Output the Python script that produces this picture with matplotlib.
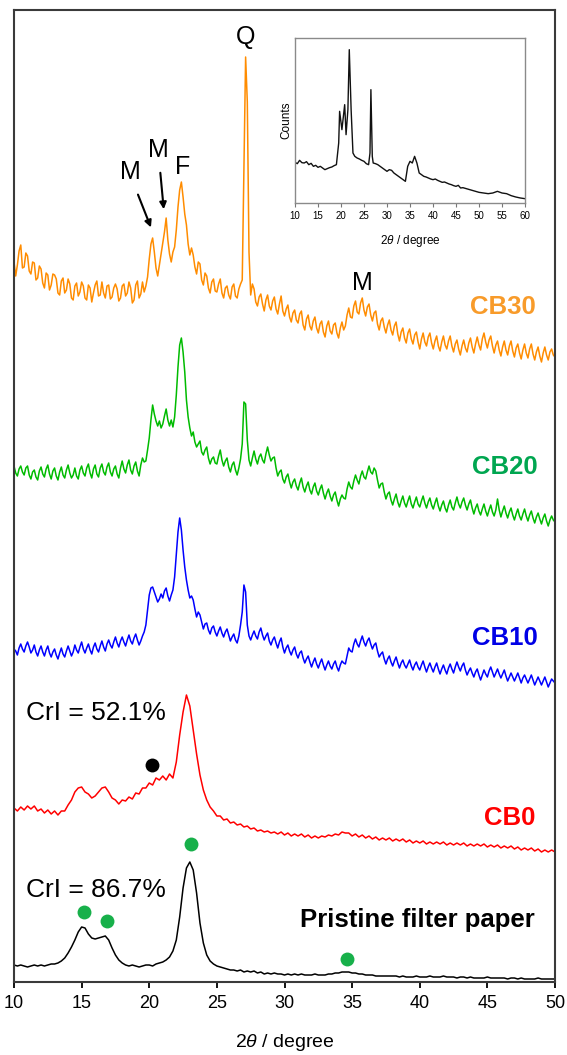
import numpy as np
import matplotlib.pyplot as plt

plt.rcParams['font.family'] = ['Liberation Sans', 'DejaVu Sans']
plt.rcParams['mathtext.fontset'] = 'custom'
plt.rcParams['mathtext.rm'] = 'Liberation Sans'
plt.rcParams['mathtext.it'] = 'Liberation Sans:italic'

# 2theta grids (degree): fine step for the noisy CB patterns, coarser for the smooth ones
theta_fine = np.arange(10, 50.001, 0.125)
theta_coarse = np.arange(10, 50.001, 0.25)

# intensities (a.u.), each pattern above its own baseline
cb30 = [110, 96, 107, 121, 127, 104, 105, 119, 116, 101, 98, 110, 109, 92, 94, 106, 103, 89, 84, 99,
        97, 82, 87, 98, 97, 93, 79, 77, 91, 94, 79, 82, 93, 88, 74, 72, 86, 89, 76, 80,
        90, 86, 74, 72, 87, 84, 70, 79, 87, 91, 76, 77, 90, 79, 74, 86, 87, 73, 75, 84,
        88, 83, 71, 74, 86, 88, 76, 79, 90, 84, 69, 72, 87, 91, 74, 78, 90, 80, 86, 95,
        113, 128, 134, 120, 104, 96, 107, 118, 129, 140, 154, 132, 118, 110, 120, 125, 142, 165, 182, 190,
        175, 158, 147, 128, 117, 124, 117, 105, 98, 110, 108, 92, 87, 99, 96, 84, 79, 90, 93, 81,
        80, 88, 93, 79, 74, 84, 86, 77, 73, 85, 88, 76, 74, 83, 88, 92, 200, 315, 270, 120,
        77, 88, 83, 70, 66, 75, 78, 68, 61, 72, 77, 66, 62, 71, 75, 63, 58, 68, 76, 61,
        56, 63, 67, 55, 50, 59, 62, 52, 49, 58, 61, 47, 42, 53, 57, 46, 42, 51, 55, 44,
        39, 48, 51, 40, 35, 46, 51, 41, 38, 47, 49, 39, 34, 44, 50, 42, 46, 57, 64, 55,
        54, 66, 71, 60, 58, 69, 74, 62, 56, 65, 68, 57, 51, 59, 61, 48, 42, 51, 54, 45,
        39, 47, 52, 42, 37, 46, 50, 38, 31, 40, 44, 34, 29, 39, 43, 33, 28, 37, 40, 30,
        23, 33, 39, 30, 26, 35, 39, 29, 23, 31, 36, 26, 21, 30, 36, 27, 23, 31, 36, 26,
        20, 28, 32, 23, 17, 26, 32, 24, 20, 29, 34, 25, 19, 28, 35, 27, 22, 33, 39, 30,
        24, 32, 36, 26, 19, 27, 31, 22, 16, 25, 31, 22, 17, 26, 31, 21, 15, 24, 28, 19,
        13, 22, 28, 19, 14, 23, 28, 18, 12, 20, 25, 16, 10, 19, 25, 17, 12, 20, 23, 17,
        15]
cb20 = [66, 59, 56, 63, 66, 60, 57, 64, 66, 57, 53, 60, 62, 55, 52, 61, 65, 58, 55, 63,
        67, 58, 53, 61, 64, 56, 52, 60, 65, 57, 54, 62, 67, 59, 54, 57, 64, 56, 53, 62,
        66, 59, 56, 64, 68, 59, 54, 63, 67, 58, 55, 64, 68, 60, 57, 65, 69, 60, 56, 63,
        66, 58, 54, 64, 71, 63, 59, 67, 72, 62, 58, 66, 70, 61, 56, 67, 74, 70, 71, 82,
        94, 112, 127, 118, 111, 106, 111, 104, 108, 116, 123, 112, 106, 112, 105, 115, 137, 165, 187, 194,
        180, 160, 132, 115, 104, 96, 100, 90, 85, 88, 91, 80, 77, 82, 85, 74, 68, 73, 75, 69,
        68, 76, 82, 72, 66, 71, 74, 65, 60, 67, 70, 62, 57, 64, 73, 88, 130, 128, 92, 72,
        66, 74, 81, 73, 68, 75, 78, 72, 69, 78, 85, 77, 71, 74, 75, 64, 56, 60, 62, 53,
        49, 55, 58, 50, 44, 50, 53, 46, 42, 49, 54, 45, 40, 46, 50, 42, 38, 45, 49, 41,
        37, 43, 47, 39, 33, 39, 43, 36, 31, 37, 40, 32, 26, 33, 37, 34, 33, 43, 50, 45,
        43, 51, 57, 52, 48, 56, 61, 55, 53, 60, 66, 60, 58, 64, 61, 52, 44, 48, 49, 40,
        33, 38, 40, 32, 27, 33, 38, 30, 25, 31, 36, 29, 25, 31, 36, 28, 24, 30, 35, 28,
        25, 31, 36, 29, 24, 30, 34, 27, 23, 29, 34, 26, 21, 27, 31, 24, 20, 27, 32, 25,
        22, 29, 35, 28, 24, 30, 34, 27, 22, 28, 32, 24, 18, 24, 28, 21, 17, 23, 28, 21,
        16, 22, 27, 20, 16, 22, 33, 22, 15, 21, 26, 19, 14, 20, 24, 17, 12, 18, 23, 16,
        12, 18, 23, 16, 11, 17, 21, 14, 9, 15, 19, 13, 8, 14, 18, 11, 6, 12, 16, 12,
        10]
cb10 = [43, 41, 37, 44, 48, 43, 40, 46, 50, 45, 39, 42, 47, 40, 36, 42, 46, 40, 36, 42,
        46, 39, 35, 40, 43, 37, 33, 39, 44, 38, 35, 41, 46, 41, 36, 40, 47, 42, 39, 45,
        50, 43, 39, 44, 48, 42, 38, 45, 49, 43, 40, 46, 51, 45, 41, 48, 52, 47, 44, 50,
        55, 49, 45, 51, 55, 50, 46, 52, 57, 51, 48, 54, 58, 52, 47, 51, 56, 60, 67, 82,
        97, 104, 105, 100, 95, 90, 93, 98, 94, 101, 104, 96, 91, 97, 102, 115, 137, 160, 174, 162,
        142, 125, 112, 102, 94, 96, 92, 83, 75, 80, 77, 70, 63, 68, 69, 62, 58, 64, 66, 60,
        56, 61, 65, 59, 55, 60, 63, 57, 51, 55, 58, 52, 49, 56, 67, 80, 107, 100, 67, 56,
        52, 57, 61, 56, 53, 60, 64, 57, 52, 56, 59, 51, 47, 52, 55, 49, 44, 50, 54, 45,
        39, 44, 47, 41, 37, 42, 45, 38, 34, 39, 41, 34, 29, 33, 36, 30, 25, 30, 34, 28,
        24, 29, 33, 27, 22, 27, 31, 26, 23, 28, 31, 25, 21, 27, 31, 29, 28, 36, 44, 41,
        40, 48, 53, 48, 45, 51, 56, 50, 46, 51, 54, 48, 43, 47, 49, 41, 35, 38, 40, 33,
        28, 33, 36, 30, 26, 31, 35, 29, 24, 29, 32, 27, 24, 28, 32, 26, 22, 27, 30, 25,
        22, 27, 31, 25, 20, 25, 29, 24, 20, 25, 29, 23, 18, 23, 27, 22, 18, 24, 28, 23,
        19, 25, 30, 25, 21, 26, 29, 22, 17, 21, 24, 19, 15, 20, 23, 17, 12, 17, 22, 18,
        15, 21, 25, 20, 15, 19, 23, 18, 14, 18, 22, 16, 11, 15, 19, 15, 11, 15, 19, 14,
        9, 14, 17, 13, 9, 13, 17, 12, 7, 11, 15, 11, 7, 11, 15, 10, 5, 9, 13, 11,
        9]
cb0 = [54, 51, 55, 52, 56, 53, 56, 51, 53, 49,
       52, 48, 51, 47, 51, 51, 57, 62, 70, 74,
       75, 70, 68, 64, 66, 70, 74, 75, 70, 64,
       62, 58, 62, 61, 65, 63, 69, 68, 74, 74,
       79, 77, 84, 82, 86, 82, 88, 84, 100, 127,
       150, 167, 156, 132, 108, 87, 72, 62, 55, 51,
       46, 46, 42, 43, 39, 40, 37, 38, 35, 36,
       33, 34, 31, 32, 30, 31, 29, 30, 28, 30,
       27, 29, 26, 28, 26, 28, 25, 27, 24, 26,
       24, 26, 25, 27, 26, 28, 27, 30, 29, 29,
       26, 28, 25, 27, 24, 26, 23, 25, 22, 24,
       22, 24, 21, 23, 21, 23, 20, 22, 19, 21,
       19, 21, 18, 20, 18, 20, 18, 20, 17, 19,
       17, 19, 17, 19, 16, 18, 16, 18, 16, 18,
       15, 17, 15, 17, 14, 16, 14, 16, 13, 15,
       12, 14, 12, 14, 11, 13, 10, 12, 10, 12,
       10]
pristine = [17, 16, 17, 16, 15, 16, 17, 16, 17, 16,
            17, 18, 18, 19, 21, 24, 29, 35, 42, 50,
            55, 54, 48, 44, 43, 44, 45, 46, 42, 34,
            27, 22, 19, 17, 16, 17, 16, 15, 16, 17,
            17, 16, 18, 19, 20, 22, 25, 31, 42, 65,
            94, 114, 120, 112, 89, 59, 39, 27, 21, 18,
            16, 15, 14, 13, 12, 12, 11, 12, 10, 11,
            10, 11, 9, 10, 8, 9, 8, 9, 8, 8,
            7, 8, 7, 8, 7, 8, 7, 7, 7, 8,
            7, 7, 7, 8, 8, 9, 9, 10, 10, 10,
            9, 9, 8, 8, 7, 7, 7, 6, 6, 6,
            6, 6, 6, 6, 5, 6, 5, 5, 5, 6,
            5, 5, 5, 6, 5, 5, 5, 6, 5, 5,
            5, 4, 5, 5, 4, 5, 4, 4, 4, 4,
            5, 4, 4, 4, 4, 4, 3, 4, 4, 3,
            4, 3, 3, 3, 3, 4, 3, 3, 3, 3,
            3]

series = [cb30, cb20, cb10, cb0, pristine]
grids = [theta_fine, theta_fine, theta_fine, theta_coarse, theta_coarse]
names = ['CB30', 'CB20', 'CB10', 'CB0', 'Pristine filter paper']
offsets = [610, 450, 290, 120, 0]
line_colors = ['#ff8c00', '#00bb00', '#0000ff', '#ff0000', '#000000']
label_colors = ['#f89b2a', '#00a650', '#0000e6', '#ff0000', '#000000']
label_pos = [(46.16, 675), (46.3, 515), (46.3, 344), (46.67, 164), (39.8, 62)]

# inset: whole range of CB30
inset_theta = [10, 10.5, 11, 11.5, 12, 12.5, 13, 13.5, 14, 14.5, 15, 15.5, 16, 16.5,
               17, 17.5, 18, 18.5, 19, 19.5, 19.7, 20.2, 20.8, 21.1, 21.5, 21.8,
               22.2, 22.6, 23, 23.5, 24, 24.5, 25, 25.5, 26, 26.3, 26.5, 26.8, 27,
               27.5, 28, 28.5, 29, 29.5, 30, 30.5, 31, 31.5, 32, 32.5, 33, 33.5, 34,
               34.5, 35, 35.5, 36, 36.5, 37, 37.5, 38, 38.5, 39, 39.5, 40, 40.5, 41,
               41.5, 42, 42.5, 43, 43.5, 44, 44.5, 45, 45.5, 46, 46.5, 47, 47.5, 48,
               48.5, 49, 49.5, 50, 51, 52, 53, 54, 55, 56, 57, 58, 59, 60]
inset_counts = [122, 118, 128, 121, 120, 124, 115, 119, 110, 113, 107, 110, 105, 100,
                103, 106, 108, 112, 115, 180, 275, 220, 295, 205, 280, 460,
                280, 150, 140, 135, 132, 128, 125, 118, 115, 150, 340, 140, 120,
                118, 115, 110, 105, 100, 95, 100, 98, 90, 85, 80, 75, 70, 65,
                110, 125, 120, 140, 120, 90, 85, 80, 78, 75, 72, 70, 72, 68,
                65, 62, 63, 60, 57, 55, 52, 50, 53, 45, 46, 44, 42, 40,
                38, 36, 34, 32, 30, 28, 30, 35, 30, 28, 22, 18, 15, 13]

# peak letters and arrows
peak_text = ['M', 'M', 'F', 'Q', 'M']
peak_pos = [(18.58, 810), (20.65, 832), (22.5, 815), (27.15, 945), (35.73, 699)]
arrow_tail = [(19.09, 790), (20.8, 812)]
arrow_head = [(20.2, 752), (21.09, 770)]

# cellulose (green) and other (black) peak markers
green_dot_theta = [15.18, 16.88, 23.09, 34.62]
green_dot_y = [70, 61, 138, 23]
black_dot_theta = [20.2]
black_dot_y = [217]

crl_text = ['CrI = 52.1%', 'CrI = 86.7%']
crl_pos = [(10.89, 269), (10.89, 92)]

fig = plt.figure(figsize=(5.67, 10.55), dpi=100)
ax = fig.add_axes([14 / 567, 73 / 1055, 541 / 567, 972 / 1055])

for x, y, off, c in zip(grids, series, offsets, line_colors):
    ax.plot(x, np.array(y) + off, color=c, lw=1.1)

for n, (x, y), c in zip(names, label_pos, label_colors):
    ax.text(x, y, n, color=c, fontsize=18.5, fontweight='bold', ha='center', va='center')

for t, (x, y) in zip(peak_text, peak_pos):
    ax.text(x, y, t, fontsize=18, ha='center', va='center')

for tail, head in zip(arrow_tail, arrow_head):
    ax.annotate('', xy=head, xytext=tail,
                arrowprops=dict(arrowstyle='-|>', color='black', lw=1.5, mutation_scale=10))

ax.plot(green_dot_theta, green_dot_y, 'o', color='#17b04a', ms=10, mec='none')
ax.plot(black_dot_theta, black_dot_y, 'o', color='black', ms=10, mec='none')

for t, (x, y) in zip(crl_text, crl_pos):
    ax.text(x, y, t, fontsize=19, ha='left', va='center')

ax.set_xlim(10, 50)
ax.set_ylim(0, 972)
ax.set_xticks(range(10, 51, 5))
ax.set_yticks([])
ax.tick_params(axis='x', direction='out', length=4, width=1.3, labelsize=13, pad=5)
for s in ax.spines.values():
    s.set_color('#3a3a3a')
    s.set_linewidth(1.5)
ax.set_xlabel(r'2$\theta$ / degree', fontsize=14)
ax.xaxis.set_label_coords(0.5, -50 / 972)

# inset
axi = fig.add_axes([295 / 567, (1055 - 203) / 1055, 230 / 567, 165 / 1055])
axi.plot(inset_theta, inset_counts, color='#111111', lw=1.0)
axi.set_xlim(10, 60)
axi.set_ylim(0, 495)
axi.set_xticks(range(10, 61, 5))
axi.set_yticks([])
axi.tick_params(axis='x', direction='out', length=3, width=0.8, labelsize=7,
                pad=3, color='#777777')
for s in axi.spines.values():
    s.set_color('#8a8a8a')
    s.set_linewidth(1.0)
axi.set_ylabel('Counts', fontsize=8.5, labelpad=2)
axi.set_xlabel(r'2$\theta$ / degree', fontsize=8.5)
axi.xaxis.set_label_coords(0.5, -30 / 165)

fig.savefig('out.png', dpi=100)
